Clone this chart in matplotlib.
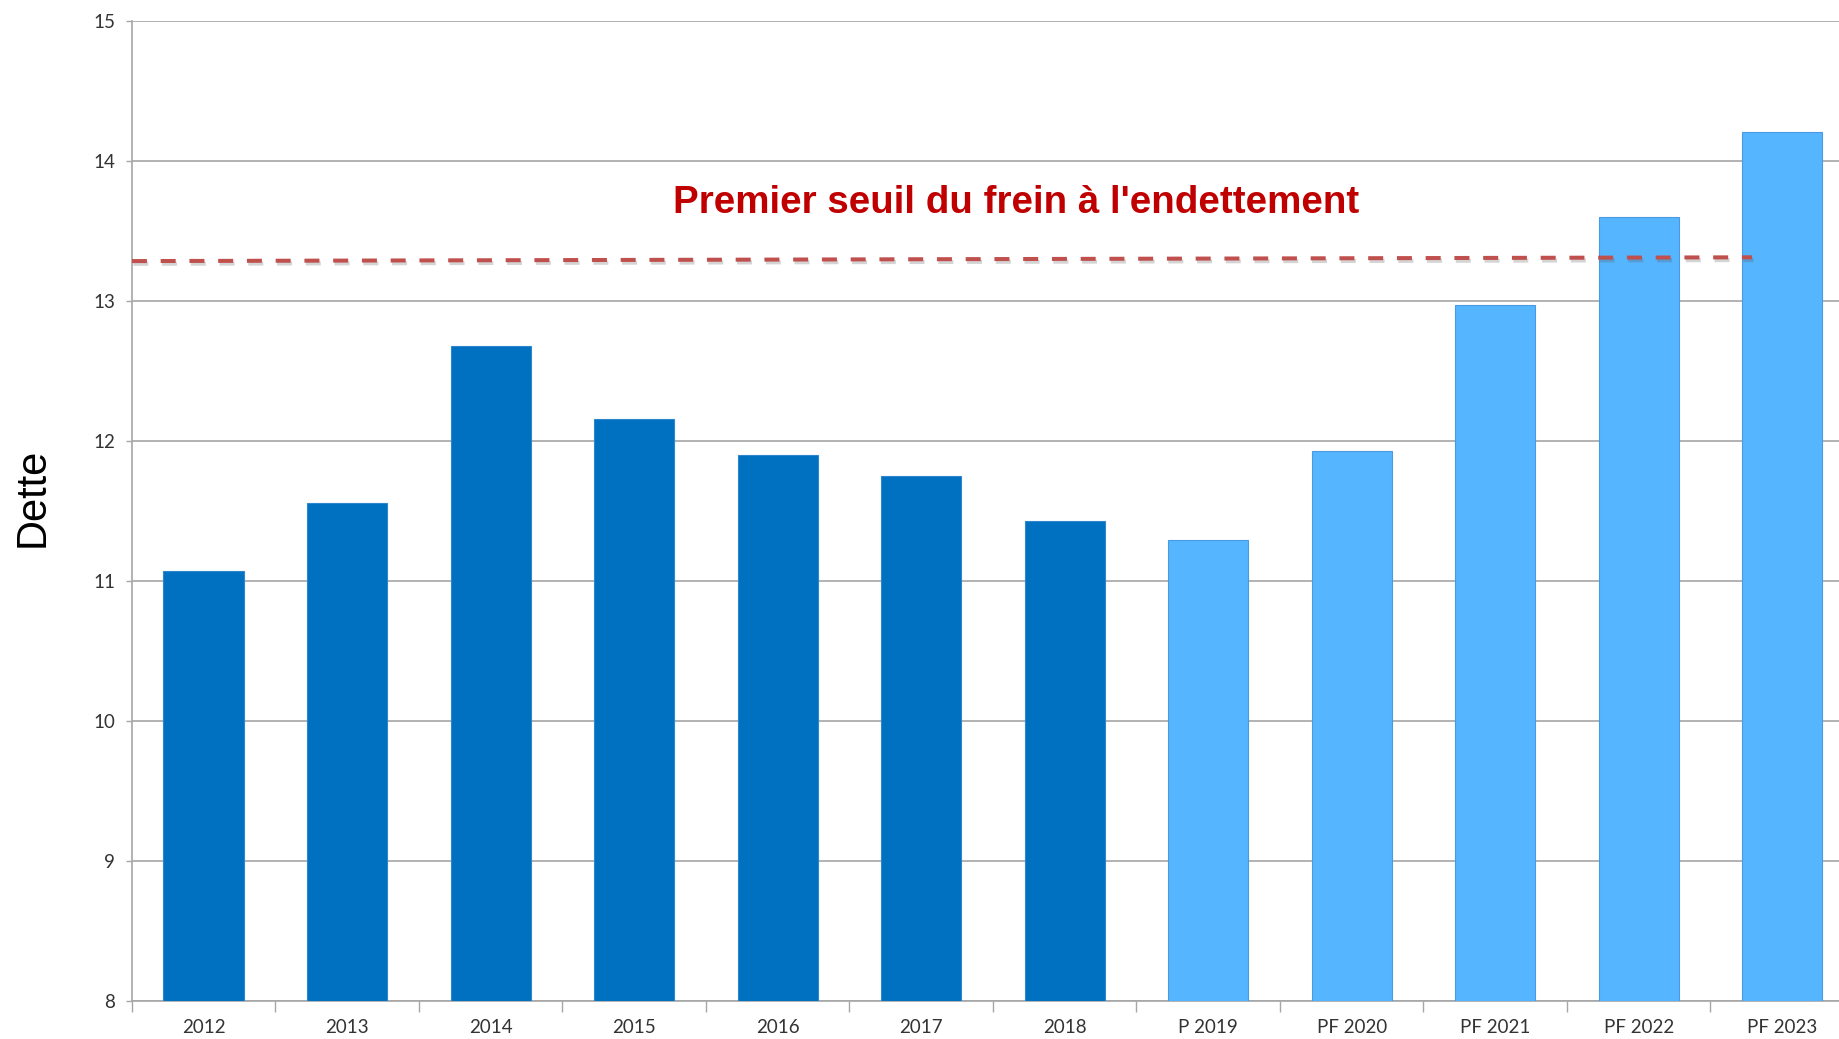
import matplotlib
matplotlib.use('Agg')
import matplotlib.pyplot as plt
import matplotlib.patheffects as pe
import numpy as np

# données
categories = ['2012', '2013', '2014', '2015', '2016', '2017', '2018',
              'P 2019', 'PF 2020', 'PF 2021', 'PF 2022', 'PF 2023']
dette = [11.07, 11.56, 12.68, 12.16, 11.90, 11.75, 11.43,
         11.29, 11.93, 12.97, 13.60, 14.21]
n_realise = 7  # 2012-2018 = comptes, le reste = prévisions

seuil_x = [-0.5, 10.79]
seuil_y = [13.285, 13.312]
seuil_label = "Premier seuil du frein à l'endettement"

plt.rcParams['lines.scale_dashes'] = False

fig = plt.figure(figsize=(18.4, 10.39), dpi=100)
ax = fig.add_axes([0.0717, 0.0366, 0.9359, 0.9432])

x = np.arange(len(categories))
colors = ['#0070C0'] * n_realise + ['#56B5FF'] * (len(categories) - n_realise)
edges = ['#2F86CC'] * n_realise + ['#4A9ADF'] * (len(categories) - n_realise)
ax.bar(x, np.array(dette) - 8, bottom=8, width=0.56, color=colors,
       edgecolor=edges, linewidth=0.8, zorder=3)

ax.set_xlim(-0.5, len(categories) - 0.5)
ax.set_ylim(8, 15)
ax.set_yticks(range(8, 16))
ax.grid(axis='y', color='#A6A6A6', linewidth=1.2, zorder=0)

# graduations aux limites des catégories, étiquettes au centre
ax.set_xticks(np.arange(len(categories) + 1) - 0.5)
ax.set_xticklabels([])
ax.set_xticks(x, minor=True)
ax.set_xticklabels(categories, minor=True, fontsize=13.5, family='Lato', color='#333333')
ax.tick_params(axis='x', which='major', length=8, width=1, color='#A6A6A6')
ax.tick_params(axis='x', which='minor', length=0, pad=13)
ax.tick_params(axis='y', length=4, width=1, color='#A6A6A6', pad=8)
for lab in ax.get_yticklabels():
    lab.set_family('Lato')
    lab.set_fontsize(13.5)
    lab.set_color('#333333')

for s in ['top', 'right']:
    ax.spines[s].set_visible(False)
for s in ['left', 'bottom']:
    ax.spines[s].set_color('#A6A6A6')
    ax.spines[s].set_linewidth(1.2)

# seuil du frein à l'endettement
ax.plot(seuil_x, seuil_y, color='#C0504D', linewidth=2.9, dashes=(10.8, 9.9),
        solid_capstyle='butt', zorder=4,
        path_effects=[pe.SimpleLineShadow(offset=(1, -2), alpha=0.25, shadow_color='#555555'),
                      pe.Normal()])
ax.text(5.66, 13.70, seuil_label, ha='center', va='center', fontsize=27.7,
        fontweight='bold', family='Liberation Sans', color='#C00000', zorder=5)

fig.text(33 / 1840, 1 - 497 / 1039, 'Dette', rotation=90, ha='center', va='center',
         fontsize=30, family='Liberation Sans', color='black')

fig.savefig('out.png', dpi=100)
plt.close(fig)
